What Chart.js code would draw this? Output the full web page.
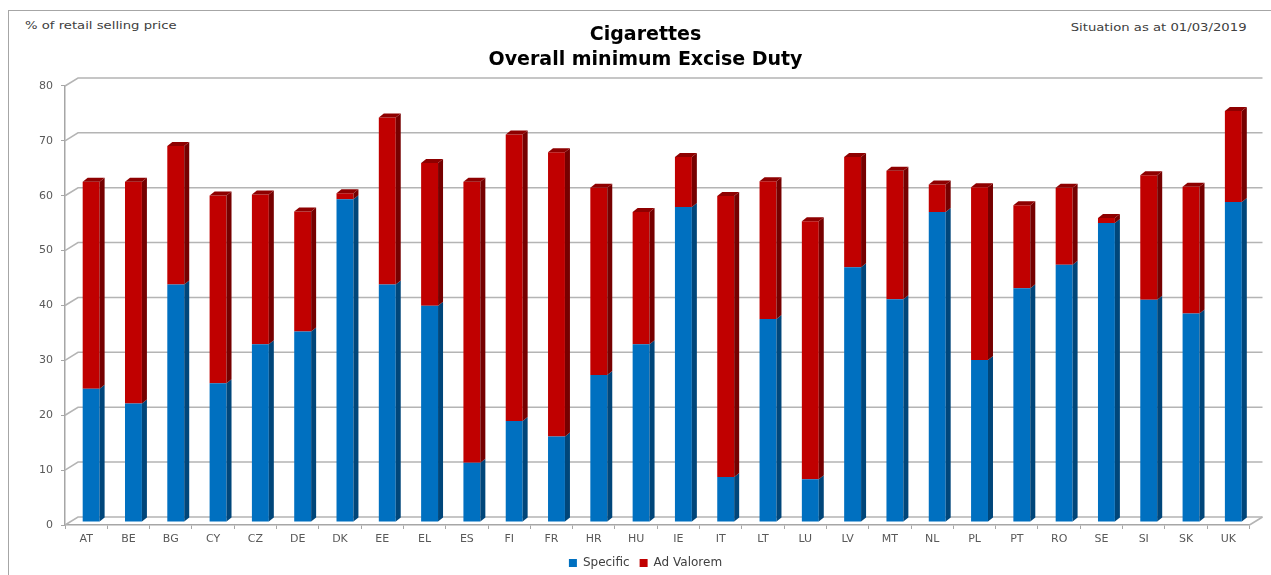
<!DOCTYPE html>
<html>
<head>
<meta charset="utf-8">
<title>Cigarettes - Overall minimum Excise Duty</title>
<script src="https://cdn.jsdelivr.net/npm/chart.js@4.4.1/dist/chart.umd.min.js"></script>
<style>
  html, body { margin: 0; padding: 0; background: #fff; overflow: hidden; }
  #wrap { position: relative; width: 1271px; height: 575px; overflow: hidden; }
  #frame { position: absolute; left: 8px; top: 10px; width: 1290px; height: 600px; border: 1px solid #a6a6a6; }
  .note { position: absolute; font: 11px 'DejaVu Sans', sans-serif; color: #404040; white-space: nowrap; transform: scaleX(1.2); }
  canvas { position: absolute; left: 0; top: 0; }
</style>
</head>
<body>
<div id="wrap">
  <div id="frame"></div>
  <div class="note" style="left:25px; top:19px; transform-origin: left center;">% of retail selling price</div>
  <div class="note" style="right:24px; top:21px; transform-origin: right center;">Situation as at 01/03/2019</div>
  <canvas id="chart" width="1271" height="575"></canvas>
</div>

<script>
// Data
const countries = ['AT', 'BE', 'BG', 'CY', 'CZ', 'DE', 'DK', 'EE', 'EL', 'ES', 'FI', 'FR', 'HR', 'HU',
                   'IE', 'IT', 'LT', 'LU', 'LV', 'MT', 'NL', 'PL', 'PT', 'RO', 'SE', 'SI', 'SK', 'UK'];
const specific  = [24.3, 21.6, 43.3, 25.3, 32.4, 34.7, 58.8, 43.3, 39.4, 10.8, 18.4, 15.6, 26.8, 32.4,
                   57.4, 8.2, 37.0, 7.8, 46.4, 40.6, 56.5, 29.5, 42.6, 46.9, 54.5, 40.5, 38.0, 58.3];
const adValorem = [37.7, 40.4, 25.2, 34.2, 27.3, 21.9, 1.1, 30.4, 26.0, 51.2, 52.2, 51.8, 34.1, 24.1,
                   9.1, 51.2, 25.1, 47.0, 20.1, 23.4, 5.0, 31.5, 15.1, 14.0, 0.9, 22.7, 23.1, 16.6];
const yMin = 0, yMax = 80, yStep = 10;

// fake 3d look: bars sit a bit back, walls further back
const shift = { x: 5, y: -3 };
const depth = { x: 5, y: 4 };
const wall = { x: 13, y: -8 };

const font = 'DejaVu Sans';

const bars3d = {
  id: 'bars3d',
  beforeDatasetsDraw(chart) {
    const { ctx, chartArea: a, scales } = chart;
    const y = scales.y;
    ctx.save();
    ctx.strokeStyle = '#b4b4b4';
    ctx.lineWidth = 1.5;
    y.ticks.forEach(t => {
      const py = y.getPixelForValue(t.value);
      ctx.beginPath();
      ctx.moveTo(a.left, py);
      ctx.lineTo(a.left + wall.x, py + wall.y);
      ctx.lineTo(a.right + wall.x, py + wall.y);
      ctx.stroke();
    });
    ctx.beginPath();
    ctx.moveTo(a.right, a.bottom);
    ctx.lineTo(a.right + wall.x, a.bottom + wall.y);
    ctx.stroke();
    ctx.restore();

    ctx.save();
    ctx.translate(shift.x, shift.y);
  },
  afterDatasetsDraw(chart) {
    const ctx = chart.ctx;
    const last = chart.data.datasets.length - 1;
    chart.data.datasets.forEach((ds, i) => {
      chart.getDatasetMeta(i).data.forEach(bar => {
        const l = bar.x - bar.width / 2, r = bar.x + bar.width / 2;
        const top = Math.min(bar.y, bar.base), bot = Math.max(bar.y, bar.base);
        ctx.fillStyle = ds.sideColor;
        ctx.beginPath();
        ctx.moveTo(r, bot);
        ctx.lineTo(r + depth.x, bot - depth.y);
        ctx.lineTo(r + depth.x, top - depth.y);
        ctx.lineTo(r, top);
        ctx.closePath();
        ctx.fill();
        if (i === last) {
          ctx.fillStyle = ds.topColor;
          ctx.beginPath();
          ctx.moveTo(l, top);
          ctx.lineTo(l + depth.x, top - depth.y);
          ctx.lineTo(r + depth.x, top - depth.y);
          ctx.lineTo(r, top);
          ctx.closePath();
          ctx.fill();
        }
      });
    });
    ctx.restore();
  }
};

const chart = new Chart('chart', {
  type: 'bar',
  data: {
    labels: countries,
    datasets: [
      { label: 'Specific', data: specific, backgroundColor: '#0070c0', sideColor: '#00467a', topColor: '#1f5f99' },
      { label: 'Ad Valorem', data: adValorem, backgroundColor: '#c00000', sideColor: '#760000', topColor: '#8e0000' }
    ]
  },
  options: {
    responsive: false,
    animation: false,
    barPercentage: 0.4,
    categoryPercentage: 1,
    layout: { padding: { left: 20, right: 0, top: 0, bottom: -4 } },
    plugins: {
      title: {
        display: true,
        text: ['Cigarettes', 'Overall minimum Excise Duty'],
        color: '#000',
        font: { family: font, size: 19, weight: 'bold', lineHeight: 1.326 },
        padding: { top: 22.4, bottom: 13.2 }
      },
      legend: {
        position: 'bottom',
        labels: {
          boxWidth: 8, boxHeight: 8, padding: 10,
          color: '#404040',
          font: { family: font, size: 12 }
        }
      },
      tooltip: { enabled: false }
    },
    scales: {
      x: {
        stacked: true,
        grid: { drawOnChartArea: false, drawTicks: true, tickLength: 4, color: '#a6a6a6' },
        border: { display: true, color: '#a6a6a6', width: 1.5 },
        ticks: { color: '#595959', padding: 4, font: { family: font, size: 11 } },
        afterFit(scale) { scale.height = 22; }
      },
      y: {
        stacked: true,
        min: yMin, max: yMax,
        grid: { drawOnChartArea: false, drawTicks: true, tickLength: 4, color: '#a6a6a6' },
        border: { display: true, color: '#a6a6a6', width: 1.5 },
        ticks: { stepSize: yStep, color: '#595959', padding: 8, font: { family: font, size: 11 } },
        afterFit(scale) { scale.width = 45; }
      },
      // empty strip on the right so title and legend centre like the original
      pad: {
        type: 'linear',
        position: 'right',
        display: true,
        ticks: { display: false },
        grid: { display: false },
        border: { display: false },
        afterFit(scale) { scale.width = 21.5; }
      }
    }
  },
  plugins: [bars3d]
});
</script>
</body>
</html>
